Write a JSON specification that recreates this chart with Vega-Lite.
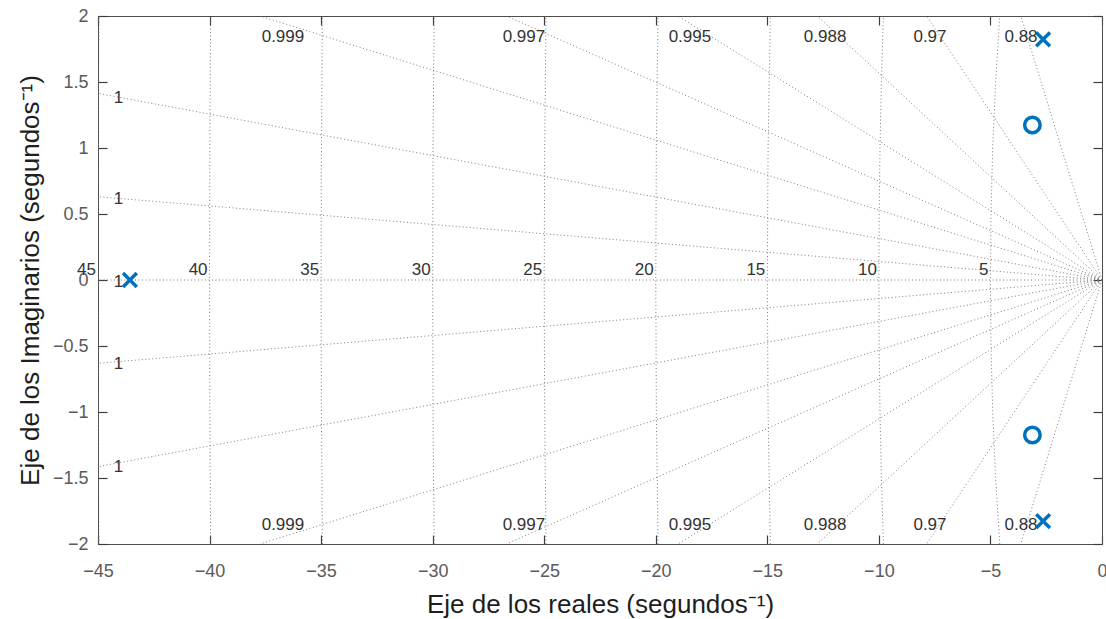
{
  "$schema": "https://vega.github.io/schema/vega-lite/v6.json",
  "width": 1004,
  "height": 528,
  "autosize": {"type": "none"},
  "padding": {"left": 98, "top": 16, "right": 4, "bottom": 75},
  "background": "white",
  "config": {"view": {"stroke": null}, "font": "Liberation Sans"},
  "datasets": {
    "grid": [
      {"g": "z1a", "k": 0, "x": 0, "y": 0}, {"g": "z1a", "k": 1, "x": -45, "y": 1.414},
      {"g": "z1b", "k": 0, "x": 0, "y": 0}, {"g": "z1b", "k": 1, "x": -45, "y": 0.631},
      {"g": "z0", "k": 0, "x": 0, "y": 0}, {"g": "z0", "k": 1, "x": -45, "y": 0},
      {"g": "z1c", "k": 0, "x": 0, "y": 0}, {"g": "z1c", "k": 1, "x": -45, "y": -0.631},
      {"g": "z1d", "k": 0, "x": 0, "y": 0}, {"g": "z1d", "k": 1, "x": -45, "y": -1.414},
      {"g": "d999t", "k": 0, "x": 0, "y": 0}, {"g": "d999t", "k": 1, "x": -37.74, "y": 2},
      {"g": "d999b", "k": 0, "x": 0, "y": 0}, {"g": "d999b", "k": 1, "x": -37.74, "y": -2},
      {"g": "d997t", "k": 0, "x": 0, "y": 0}, {"g": "d997t", "k": 1, "x": -26.69, "y": 2},
      {"g": "d997b", "k": 0, "x": 0, "y": 0}, {"g": "d997b", "k": 1, "x": -26.69, "y": -2},
      {"g": "d995t", "k": 0, "x": 0, "y": 0}, {"g": "d995t", "k": 1, "x": -19.0, "y": 2},
      {"g": "d995b", "k": 0, "x": 0, "y": 0}, {"g": "d995b", "k": 1, "x": -19.0, "y": -2},
      {"g": "d988t", "k": 0, "x": 0, "y": 0}, {"g": "d988t", "k": 1, "x": -12.76, "y": 2},
      {"g": "d988b", "k": 0, "x": 0, "y": 0}, {"g": "d988b", "k": 1, "x": -12.76, "y": -2},
      {"g": "d97t", "k": 0, "x": 0, "y": 0}, {"g": "d97t", "k": 1, "x": -7.86, "y": 2},
      {"g": "d97b", "k": 0, "x": 0, "y": 0}, {"g": "d97b", "k": 1, "x": -7.86, "y": -2},
      {"g": "d88t", "k": 0, "x": 0, "y": 0}, {"g": "d88t", "k": 1, "x": -3.64, "y": 2},
      {"g": "d88b", "k": 0, "x": 0, "y": 0}, {"g": "d88b", "k": 1, "x": -3.64, "y": -2},
      {"g": "r5", "k": 0, "x": -4.583, "y": -2}, {"g": "r5", "k": 1, "x": -4.770, "y": -1.5},
      {"g": "r5", "k": 2, "x": -4.899, "y": -1}, {"g": "r5", "k": 3, "x": -4.975, "y": -0.5},
      {"g": "r5", "k": 4, "x": -5, "y": 0}, {"g": "r5", "k": 5, "x": -4.975, "y": 0.5},
      {"g": "r5", "k": 6, "x": -4.899, "y": 1}, {"g": "r5", "k": 7, "x": -4.770, "y": 1.5},
      {"g": "r5", "k": 8, "x": -4.583, "y": 2},
      {"g": "r10", "k": 0, "x": -9.798, "y": -2}, {"g": "r10", "k": 1, "x": -9.887, "y": -1.5},
      {"g": "r10", "k": 2, "x": -9.950, "y": -1}, {"g": "r10", "k": 3, "x": -9.987, "y": -0.5},
      {"g": "r10", "k": 4, "x": -10, "y": 0}, {"g": "r10", "k": 5, "x": -9.987, "y": 0.5},
      {"g": "r10", "k": 6, "x": -9.950, "y": 1}, {"g": "r10", "k": 7, "x": -9.887, "y": 1.5},
      {"g": "r10", "k": 8, "x": -9.798, "y": 2},
      {"g": "r15", "k": 0, "x": -14.866, "y": -2}, {"g": "r15", "k": 1, "x": -14.967, "y": -1},
      {"g": "r15", "k": 2, "x": -15, "y": 0}, {"g": "r15", "k": 3, "x": -14.967, "y": 1},
      {"g": "r15", "k": 4, "x": -14.866, "y": 2},
      {"g": "r20", "k": 0, "x": -19.900, "y": -2}, {"g": "r20", "k": 1, "x": -19.975, "y": -1},
      {"g": "r20", "k": 2, "x": -20, "y": 0}, {"g": "r20", "k": 3, "x": -19.975, "y": 1},
      {"g": "r20", "k": 4, "x": -19.900, "y": 2},
      {"g": "r25", "k": 0, "x": -24.920, "y": -2}, {"g": "r25", "k": 1, "x": -24.980, "y": -1},
      {"g": "r25", "k": 2, "x": -25, "y": 0}, {"g": "r25", "k": 3, "x": -24.980, "y": 1},
      {"g": "r25", "k": 4, "x": -24.920, "y": 2},
      {"g": "r30", "k": 0, "x": -29.933, "y": -2}, {"g": "r30", "k": 1, "x": -29.983, "y": -1},
      {"g": "r30", "k": 2, "x": -30, "y": 0}, {"g": "r30", "k": 3, "x": -29.983, "y": 1},
      {"g": "r30", "k": 4, "x": -29.933, "y": 2},
      {"g": "r35", "k": 0, "x": -34.943, "y": -2}, {"g": "r35", "k": 1, "x": -34.986, "y": -1},
      {"g": "r35", "k": 2, "x": -35, "y": 0}, {"g": "r35", "k": 3, "x": -34.986, "y": 1},
      {"g": "r35", "k": 4, "x": -34.943, "y": 2},
      {"g": "r40", "k": 0, "x": -39.950, "y": -2}, {"g": "r40", "k": 1, "x": -39.988, "y": -1},
      {"g": "r40", "k": 2, "x": -40, "y": 0}, {"g": "r40", "k": 3, "x": -39.988, "y": 1},
      {"g": "r40", "k": 4, "x": -39.950, "y": 2},
      {"g": "r45", "k": 0, "x": -44.956, "y": -2}, {"g": "r45", "k": 1, "x": -44.989, "y": -1},
      {"g": "r45", "k": 2, "x": -45, "y": 0}, {"g": "r45", "k": 3, "x": -44.989, "y": 1},
      {"g": "r45", "k": 4, "x": -44.956, "y": 2}
    ],
    "zlabels": [
      {"t": "0.999", "x": -36.71, "y": 1.84}, {"t": "0.997", "x": -25.91, "y": 1.84},
      {"t": "0.995", "x": -18.47, "y": 1.84}, {"t": "0.988", "x": -12.41, "y": 1.84},
      {"t": "0.97", "x": -7.71, "y": 1.84}, {"t": "0.88", "x": -3.63, "y": 1.84},
      {"t": "0.999", "x": -36.71, "y": -1.855}, {"t": "0.997", "x": -25.91, "y": -1.855},
      {"t": "0.995", "x": -18.47, "y": -1.855}, {"t": "0.988", "x": -12.41, "y": -1.855},
      {"t": "0.97", "x": -7.71, "y": -1.855}, {"t": "0.88", "x": -3.63, "y": -1.855},
      {"t": "1", "x": -44.08, "y": 1.38}, {"t": "1", "x": -44.08, "y": 0.61},
      {"t": "1", "x": -44.08, "y": -0.015}, {"t": "1", "x": -44.08, "y": -0.64},
      {"t": "1", "x": -44.08, "y": -1.42}
    ],
    "flabels": [
      {"t": "45", "x": -45, "y": 0}, {"t": "40", "x": -40, "y": 0},
      {"t": "35", "x": -35, "y": 0}, {"t": "30", "x": -30, "y": 0},
      {"t": "25", "x": -25, "y": 0}, {"t": "20", "x": -20, "y": 0},
      {"t": "15", "x": -15, "y": 0}, {"t": "10", "x": -10, "y": 0},
      {"t": "5", "x": -5, "y": 0}
    ],
    "poles": [
      {"x": -43.57, "y": 0}, {"x": -2.64, "y": 1.823}, {"x": -2.64, "y": -1.826}
    ],
    "zeros": [
      {"x": -3.12, "y": 1.174}, {"x": -3.12, "y": -1.174}
    ]
  },
  "resolve": {"axis": {"x": "independent", "y": "independent"}},
  "layer": [
    {
      "data": {"name": "grid"},
      "mark": {"type": "line", "clip": true, "color": "#6e6e6e", "strokeWidth": 0.9, "strokeDash": [1, 2.5]},
      "encoding": {
        "x": {
          "field": "x", "type": "quantitative",
          "scale": {"domain": [-45, 0], "nice": false, "zero": false},
          "axis": {
            "orient": "bottom", "values": [-45, -40, -35, -30, -25, -20, -15, -10, -5, 0],
            "format": "d", "grid": false, "labelFlush": false, "labelOverlap": false,
            "labelFont": "Liberation Sans", "labelFontSize": 18, "labelColor": "#5a5a5a",
            "tickSize": -9, "tickColor": "#3d3d3d", "tickWidth": 1.2, "labelPadding": 27,
            "domainColor": "#4d4d4d", "domainWidth": 1,
            "title": "Eje de los reales (segundos⁻¹)", "titleFont": "Liberation Sans",
            "titleFontSize": 26, "titleFontWeight": "normal", "titleColor": "#1e1e1e",
            "titleX": 502, "titleY": 68, "titleBaseline": "alphabetic", "titleAlign": "center"
          }
        },
        "y": {
          "field": "y", "type": "quantitative",
          "scale": {"domain": [-2, 2], "nice": false, "zero": false},
          "axis": {
            "orient": "left", "values": [-2, -1.5, -1, -0.5, 0, 0.5, 1, 1.5, 2],
            "format": "~g", "grid": false, "labelFlush": false, "labelOverlap": false,
            "labelFont": "Liberation Sans", "labelFontSize": 18, "labelColor": "#5a5a5a",
            "tickSize": -9, "tickColor": "#3d3d3d", "tickWidth": 1.2, "labelPadding": 19,
            "domainColor": "#4d4d4d", "domainWidth": 1,
            "title": "Eje de los Imaginarios (segundos⁻¹)", "titleFont": "Liberation Sans",
            "titleFontSize": 26, "titleFontWeight": "normal", "titleColor": "#1e1e1e",
            "titleX": -60, "titleY": 264, "titleAngle": -90, "titleBaseline": "alphabetic", "titleAlign": "center"
          }
        },
        "detail": {"field": "g"},
        "order": {"field": "k"}
      }
    },
    {
      "data": {"name": "zlabels"},
      "mark": {"type": "text", "align": "center", "baseline": "middle", "font": "Liberation Sans", "fontSize": 17, "color": "#333333"},
      "encoding": {
        "x": {"field": "x", "type": "quantitative", "axis": null},
        "y": {"field": "y", "type": "quantitative", "axis": null},
        "text": {"field": "t"}
      }
    },
    {
      "data": {"name": "flabels"},
      "mark": {"type": "text", "align": "right", "baseline": "alphabetic", "dx": -2, "dy": -5, "font": "Liberation Sans", "fontSize": 17, "color": "#333333"},
      "encoding": {
        "x": {"field": "x", "type": "quantitative", "axis": null},
        "y": {"field": "y", "type": "quantitative", "axis": null},
        "text": {"field": "t"}
      }
    },
    {
      "data": {"name": "zeros"},
      "mark": {"type": "point", "shape": "circle", "filled": false, "size": 240, "strokeWidth": 3.5, "color": "#0072BD", "opacity": 1},
      "encoding": {
        "x": {"field": "x", "type": "quantitative", "axis": null},
        "y": {"field": "y", "type": "quantitative", "axis": null}
      }
    },
    {
      "data": {"name": "poles"},
      "mark": {"type": "point", "shape": "M-1,-1L1,1M1,-1L-1,1", "filled": false, "size": 190, "strokeWidth": 3.5, "color": "#0072BD", "opacity": 1},
      "encoding": {
        "x": {
          "field": "x", "type": "quantitative",
          "axis": {
            "orient": "top", "values": [-45, -40, -35, -30, -25, -20, -15, -10, -5, 0],
            "labels": false, "title": null, "grid": false,
            "tickSize": -9, "tickColor": "#3d3d3d", "tickWidth": 1.2,
            "domainColor": "#4d4d4d", "domainWidth": 1
          }
        },
        "y": {
          "field": "y", "type": "quantitative",
          "axis": {
            "orient": "right", "values": [-2, -1.5, -1, -0.5, 0, 0.5, 1, 1.5, 2],
            "labels": false, "title": null, "grid": false,
            "tickSize": -9, "tickColor": "#3d3d3d", "tickWidth": 1.2,
            "domainColor": "#4d4d4d", "domainWidth": 1
          }
        }
      }
    }
  ]
}
